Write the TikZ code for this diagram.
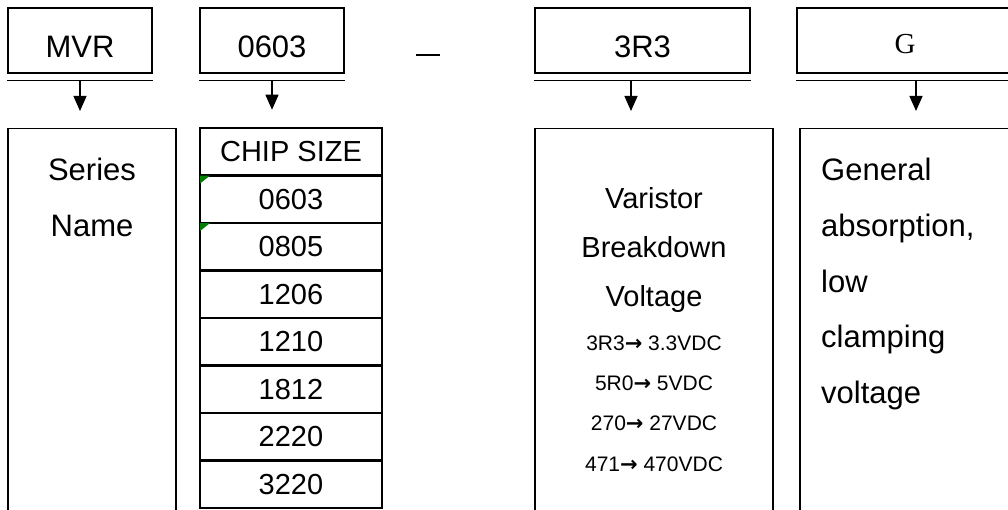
\documentclass[tikz,border=0pt]{standalone}
\usepackage{fontspec}
\setmainfont{Liberation Sans}
\newfontfamily\serifG{Liberation Serif}
\newfontfamily\arrowfont{DejaVu Sans}
\usetikzlibrary{arrows.meta}
\definecolor{errgreen}{RGB}{0,128,0}
\newcommand{\tto}{{\arrowfont\bfseries →}}

\begin{document}
\begin{tikzpicture}[x=1pt,y=1pt,
  code/.style={draw, line width=1.2pt, minimum height=65pt, inner sep=0pt, font=\fontsize{31}{36}\selectfont, text height=34pt, text depth=0pt},
  frame/.style={draw, line width=1.2pt, inner sep=0pt, minimum height=400pt, anchor=north},
  cell/.style={draw, line width=2.5pt, minimum width=182pt, minimum height=47.5pt, inner sep=0pt, font=\fontsize{29}{34}\selectfont},
  body/.style={inner sep=0pt, font=\fontsize{31}{36}\selectfont},
  small/.style={inner sep=0pt, font=\fontsize{21}{25}\selectfont},
  uline/.style={line width=1.2pt},
  arrow/.style={-{Triangle[length=15pt,width=13pt]}, line width=1.2pt}
]
\useasboundingbox (0,0) rectangle (1008,509);

% part number fields
\node[code, minimum width=144pt] (mvr) at (80,468.5) {MVR};
\node[code, minimum width=144pt] (size) at (272,468.5) {0603};
\node[code, minimum width=215pt] (volt) at (642.5,468.5) {3R3};
\node[code, minimum width=216pt, font=\serifG\fontsize{29}{34}\selectfont, text height=27pt] (type) at (905,468.5) {G};
\node[inner sep=0pt] (dash) at (428,454) {\rule{24pt}{1.5pt}};

% explanation boxes
\node[frame, minimum width=168pt] (namebox) at (92,381) {};
\node[frame, minimum width=238pt] (voltbox) at (654,381) {};
\node[frame, minimum width=220pt] (typebox) at (910,381) {};

\foreach \sz [count=\i] in {CHIP SIZE,0603,0805,1206,1210,1812,2220,3220}
  \node[cell] (cell\i) at (291,404.75-47.5*\i) {\sz};
\foreach \i in {2,3}
  \fill[errgreen] ([shift={(1.3,-1.3)}]cell\i.north west) -- ++(10,0) -- ++(-10,-8) -- cycle;

\foreach \t/\b/\dx in {mvr/namebox/0, size/cell1/0, volt/voltbox/-11.5, type/typebox/11} {
  \draw[uline] ([yshift=-7pt]\t.south west) -- ([yshift=-7pt]\t.south east);
  \draw[arrow] ([shift={(\dx,-7)}]\t.south) -- ([shift={(\dx,17)}]\t.south |- \b.north);
}

\foreach \w [count=\i] in {Series,Name}
  \node[body, anchor=base] (name\i) at (92,383.5-55.5*\i) {\w};
\foreach \w [count=\i] in {Varistor,Breakdown,Voltage}
  \node[body, font=\fontsize{29}{34}\selectfont, anchor=base] (vtitle\i) at (654,349.6-49*\i) {\w};
\foreach \w [count=\i] in {3R3\tto\ 3.3VDC,5R0\tto\ 5VDC,270\tto\ 27VDC,471\tto\ 470VDC}
  \node[small, anchor=base] (vcode\i) at (654,199-40.3*\i) {\w};
\foreach \w [count=\i] in {General,{absorption,},low,clamping,voltage}
  \node[body, anchor=base west] (gen\i) at (821,383.5-55.5*\i) {\w};
\end{tikzpicture}
\end{document}
